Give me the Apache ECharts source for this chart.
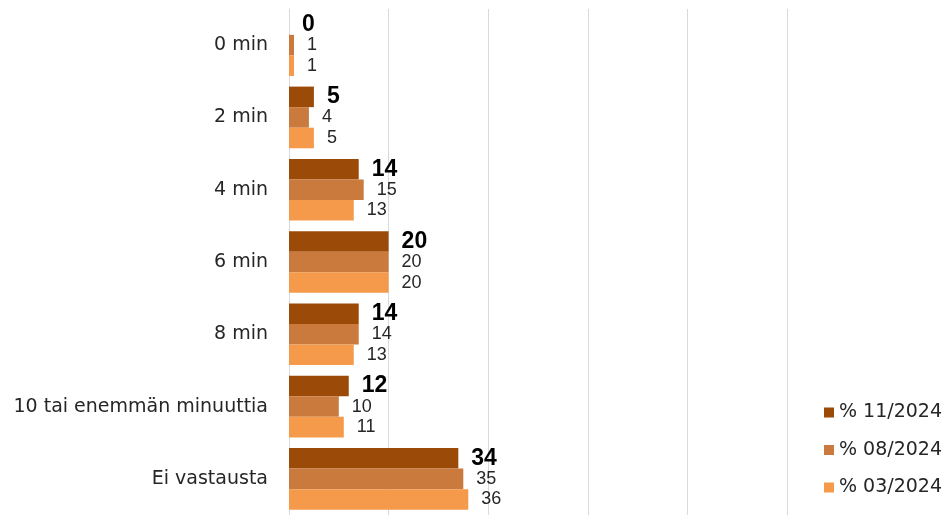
<!DOCTYPE html>
<html><head><meta charset="utf-8">
<script src="https://cdn.jsdelivr.net/npm/echarts@6/dist/echarts.min.js"></script>
<style>html,body{margin:0;padding:0;background:#fff}#c{width:948px;height:515px}</style>
</head><body><div id="c"></div>
<script>
const categories = ["0 min", "2 min", "4 min", "6 min", "8 min", "10 tai enemmän minuuttia", "Ei vastausta"];
const seriesNames = ["% 11/2024", "% 08/2024", "% 03/2024"];
const s2024_11 = [0, 5, 14, 20, 14, 12, 34];
const s2024_08 = [1, 4, 15, 20, 14, 10, 35];
const s2024_03 = [1, 5, 13, 20, 13, 11, 36];
const colors = ["#9B4A08", "#C97A3C", "#F5994A"];

const labelFont = "Liberation Sans, Arial, sans-serif";
const textFont = "DejaVu Sans, sans-serif";
function mk(name, data, color, bold) {
  return {
    name, type: "bar", data, barGap: "0%", barCategoryGap: "14.7%",
    itemStyle: { color },
    label: {
      show: true, position: "right", distance: 13,
      fontFamily: labelFont,
      fontSize: bold ? 23 : 18,
      fontWeight: bold ? "bold" : "normal",
      color: bold ? "#000" : "#262626"
    }
  };
}
const chart = echarts.init(document.getElementById("c"));
chart.setOption({
  animation: false,
  grid: { left: 289, top: 9, width: 498, height: 509, containLabel: false },
  legend: {
    orient: "vertical", left: 819, top: 398, itemGap: 18.5,
    itemWidth: 10, itemHeight: 10, icon: "rect",
    textStyle: { fontFamily: textFont, fontSize: 19, color: "#262626" },
    data: seriesNames
  },
  xAxis: {
    type: "value", min: 0, max: 100, interval: 20,
    axisLabel: { show: false }, axisLine: { show: false }, axisTick: { show: false },
    splitLine: { lineStyle: { color: "#d9d9d9", width: 1 } }
  },
  yAxis: {
    type: "category", data: categories, inverse: true,
    axisTick: { show: false },
    axisLine: { lineStyle: { color: "#d9d9d9" } },
    axisLabel: { fontFamily: textFont, fontSize: 19, color: "#262626", margin: 21 }
  },
  series: [
    mk(seriesNames[0], s2024_11, colors[0], true),
    mk(seriesNames[1], s2024_08, colors[1], false),
    mk(seriesNames[2], s2024_03, colors[2], false)
  ]
});
</script></body></html>
